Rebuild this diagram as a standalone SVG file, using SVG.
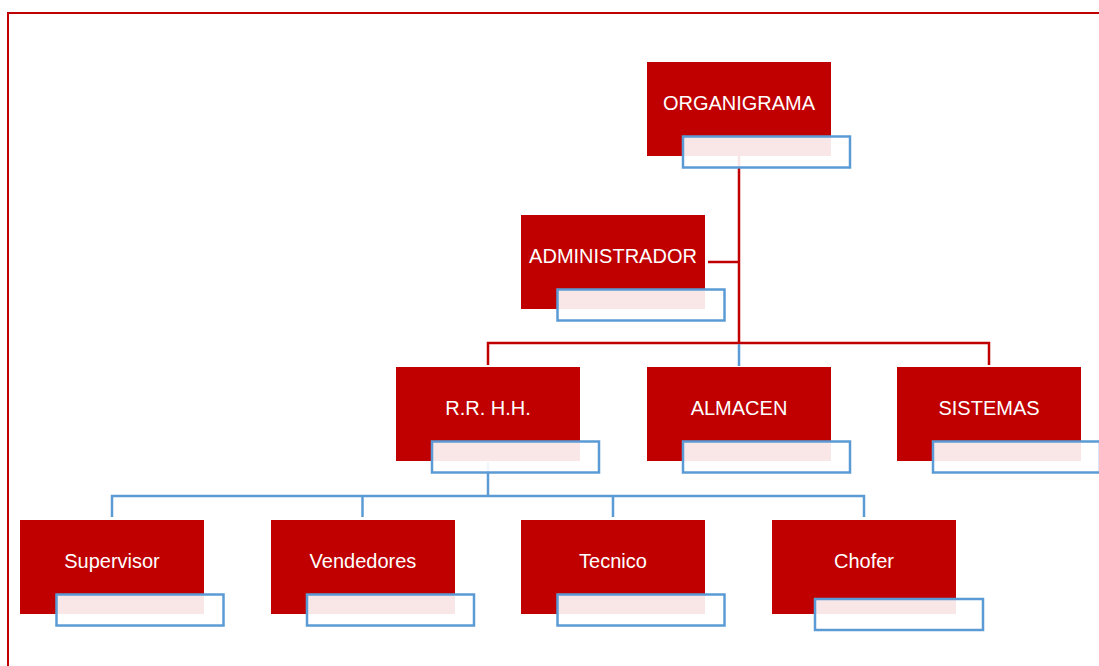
<svg xmlns="http://www.w3.org/2000/svg" width="1099" height="666" viewBox="0 0 1099 666">
  <defs>
    <style>
      .box { fill: #C00000; }
      .label { fill: #FFFFFF; font-family: "Liberation Sans", "Open Sans", Arial, sans-serif; font-size: 20px; text-anchor: middle; }
      .tag { fill: #FFFFFF; fill-opacity: 0.9; stroke: #5B9BD5; stroke-width: 2.5; }
      .red-line { stroke: #C00000; stroke-width: 2.5; fill: none; }
      .blue-line { stroke: #5B9BD5; stroke-width: 2.5; fill: none; }
    </style>
  </defs>

  <rect width="1099" height="666" fill="#FFFFFF"/>
  <!-- page frame -->
  <rect x="8" y="13" width="1200" height="800" fill="none" stroke="#C00000" stroke-width="2"/>

  <!-- connectors (drawn under the name tags) -->
  <g id="connectors">
    <path class="red-line" d="M739 156 V343"/>
    <path class="red-line" d="M708 262 H739"/>
    <path class="red-line" d="M488 365 V343 H989 V365"/>
    <path class="blue-line" d="M739 344 V366"/>
    <path class="blue-line" d="M488 462 V496"/>
    <path class="blue-line" d="M112 517 V496 H864 V517"/>
    <path class="blue-line" d="M362.5 496 V517"/>
    <path class="blue-line" d="M613 496 V517"/>
  </g>

  <g id="organigrama">
    <rect class="box" x="647" y="62" width="184" height="94"/>
    <text class="label" x="739" y="110">ORGANIGRAMA</text>
    <rect class="tag" x="683" y="136.5" width="167" height="31"/>
  </g>

  <g id="administrador">
    <rect class="box" x="521" y="215" width="184" height="94"/>
    <text class="label" x="613" y="263">ADMINISTRADOR</text>
    <rect class="tag" x="557.5" y="289.5" width="167" height="31"/>
  </g>

  <g id="rrhh">
    <rect class="box" x="396" y="367" width="184" height="94"/>
    <text class="label" x="488" y="415">R.R. H.H.</text>
    <rect class="tag" x="432" y="441.5" width="167" height="31"/>
  </g>

  <g id="almacen">
    <rect class="box" x="647" y="367" width="184" height="94"/>
    <text class="label" x="739" y="415">ALMACEN</text>
    <rect class="tag" x="683" y="441.5" width="167" height="31"/>
  </g>

  <g id="sistemas">
    <rect class="box" x="897" y="367" width="184" height="94"/>
    <text class="label" x="989" y="415">SISTEMAS</text>
    <rect class="tag" x="933" y="441.5" width="167" height="31"/>
  </g>

  <g id="supervisor">
    <rect class="box" x="20" y="520" width="184" height="94"/>
    <text class="label" x="112" y="568">Supervisor</text>
    <rect class="tag" x="56.5" y="594.5" width="167" height="31"/>
  </g>

  <g id="vendedores">
    <rect class="box" x="271" y="520" width="184" height="94"/>
    <text class="label" x="363" y="568">Vendedores</text>
    <rect class="tag" x="307" y="594.5" width="167" height="31"/>
  </g>

  <g id="tecnico">
    <rect class="box" x="521" y="520" width="184" height="94"/>
    <text class="label" x="613" y="568">Tecnico</text>
    <rect class="tag" x="557.5" y="594.5" width="167" height="31"/>
  </g>

  <g id="chofer">
    <rect class="box" x="772" y="520" width="184" height="94"/>
    <text class="label" x="864" y="568">Chofer</text>
    <rect class="tag" x="815" y="599" width="168" height="31"/>
  </g>
</svg>
